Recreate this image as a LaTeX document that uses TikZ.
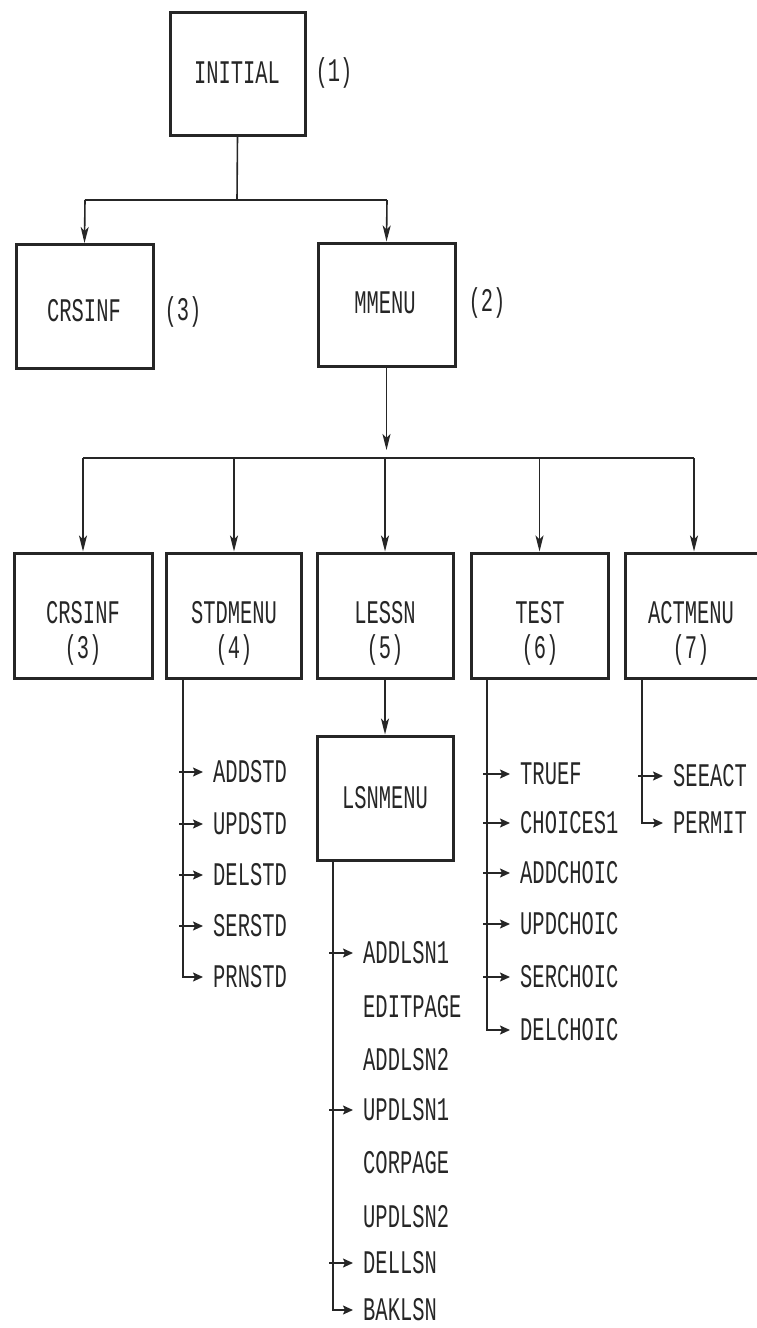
\documentclass[tikz,border=0pt]{standalone}
\usepackage{fontspec}
\newfontfamily\dotfont[FakeStretch=0.62]{Liberation Mono}
\usetikzlibrary{arrows.meta,calc}
\begin{document}
\begin{tikzpicture}[x=1pt,y=-1pt,
  box/.style={draw=black!85, line width=3pt, minimum width=137pt, minimum height=124pt, inner sep=0pt},
  txt/.style={font=\dotfont\fontsize{33}{36}\selectfont, text=black!85, inner sep=1pt},
  item/.style={txt, anchor=west, inner xsep=10pt},
  conn/.style={draw=black!85, line width=1.6pt},
  arr/.style={conn, -{Stealth[length=16pt,width=8pt,inset=4pt]}},
  sarr/.style={conn, -{Stealth[length=10pt,width=9pt,inset=2pt]}},
]
\useasboundingbox (0,0) rectangle (757,1328);

% top level
\node[box, minimum width=135pt, minimum height=123pt] (initial) at (237.5,73.5) {};
\node[txt] (tinitial) at (237,73) {INITIAL};
\node[txt] (n1) at (334,73) {(1)};

\node[box] (crsinf) at (84.5,306.5) {};
\node[txt] (tcrsinf) at (84,311) {CRSINF};
\node[txt] (n3a) at (183,312) {(3)};

\node[box, minimum height=123pt] (mmenu) at (386.5,304.5) {};
\node[txt] (tmmenu) at (385,303) {MMENU};
\node[txt] (n2) at (487,303) {(2)};

\coordinate (j1) at (237,200);
\coordinate (b1l) at (85,200);
\coordinate (b1r) at (387,200);
\draw[conn] (initial.south) -- (j1);
\draw[conn] (b1l) -- (b1r);
\draw[arr] (b1l) -- (crsinf.north);
\draw[arr] (b1r) -- (mmenu.north);

% second row
\node[box, minimum width=138pt, minimum height=125pt] (crs3) at (83,615.5) {};
\node[box, minimum width=135pt, minimum height=125pt] (std) at (234,615.5) {};
\node[box, minimum width=136pt, minimum height=125pt] (less) at (385,615.5) {};
\node[box, minimum width=137pt, minimum height=125pt] (test) at (539.5,615.5) {};
\node[box, minimum width=138pt, minimum height=125pt] (act) at (694,615.5) {};

\node[txt] (tcrs3) at (83,613) {CRSINF};
\node[txt] (n3b) at (83,650) {(3)};
\node[txt] (tstd) at (234,613) {STDMENU};
\node[txt] (n4) at (234,650) {(4)};
\node[txt] (tless) at (385,613) {LESSN};
\node[txt] (n5) at (385,650) {(5)};
\node[txt] (ttest) at (540,613) {TEST};
\node[txt] (n6) at (540,650) {(6)};
\node[txt] (tact) at (691,613) {ACTMENU};
\node[txt] (n7) at (691,650) {(7)};

\coordinate (mdown) at (386.5,450);
\draw[arr] (mmenu.south) -- (mdown);
\coordinate (b2l) at (83,458);
\coordinate (b2r) at (694,458);
\draw[conn] (b2l) -- (b2r);
\draw[arr] (crs3.north |- b2l) -- (crs3.north);
\draw[arr] (std.north |- b2l) -- (std.north);
\draw[arr] (less.north |- b2l) -- (less.north);
\draw[arr] (test.north |- b2l) -- (test.north);
\draw[arr] (act.north |- b2l) -- (act.north);

% LSNMENU
\node[box, minimum width=136pt, minimum height=124pt] (lsn) at (385,798) {};
\node[txt] (tlsn) at (385,798) {LSNMENU};
\draw[arr] (less.south) -- (lsn.north);

% STDMENU list
\node[item] (addstd) at (203,772) {ADDSTD};
\node[item] (updstd) at (203,824) {UPDSTD};
\node[item] (delstd) at (203,875) {DELSTD};
\node[item] (serstd) at (203,926) {SERSTD};
\node[item] (prnstd) at (203,977) {PRNSTD};
\coordinate (stdtr) at (183,678);
\draw[sarr] (stdtr) |- (prnstd.west);
\foreach \n in {addstd,updstd,delstd,serstd}
  \draw[sarr] ($(\n.west -| stdtr)+(-4,0)$) -- (\n.west);

% TEST list
\node[item] (truef) at (510,774) {TRUEF};
\node[item] (choices) at (510,823) {CHOICES1};
\node[item] (addchoic) at (510,873) {ADDCHOIC};
\node[item] (updchoic) at (510,924) {UPDCHOIC};
\node[item] (serchoic) at (510,977) {SERCHOIC};
\node[item] (delchoic) at (510,1030) {DELCHOIC};
\coordinate (testtr) at (487,678);
\draw[sarr] (testtr) |- (delchoic.west);
\foreach \n in {truef,choices,addchoic,updchoic,serchoic}
  \draw[sarr] ($(\n.west -| testtr)+(-4,0)$) -- (\n.west);

% ACTMENU list
\node[item] (seeact) at (663,776) {SEEACT};
\node[item] (permit) at (663,823) {PERMIT};
\coordinate (acttr) at (642,678);
\draw[sarr] (acttr) |- (permit.west);
\draw[sarr] ($(seeact.west -| acttr)+(-4,0)$) -- (seeact.west);

% LSNMENU list
\node[item] (addlsn1) at (353,953) {ADDLSN1};
\node[item] (editpage) at (353,1007) {EDITPAGE};
\node[item] (addlsn2) at (353,1060) {ADDLSN2};
\node[item] (updlsn1) at (353,1110) {UPDLSN1};
\node[item] (corpage) at (353,1163) {CORPAGE};
\node[item] (updlsn2) at (353,1217) {UPDLSN2};
\node[item] (dellsn) at (353,1263) {DELLSN};
\node[item] (baklsn) at (353,1310) {BAKLSN};
\coordinate (lsntr) at (333,860);
\draw[sarr] (lsntr) |- (baklsn.west);
\foreach \n in {addlsn1,updlsn1,dellsn}
  \draw[sarr] ($(\n.west -| lsntr)+(-4,0)$) -- (\n.west);
\end{tikzpicture}
\end{document}
